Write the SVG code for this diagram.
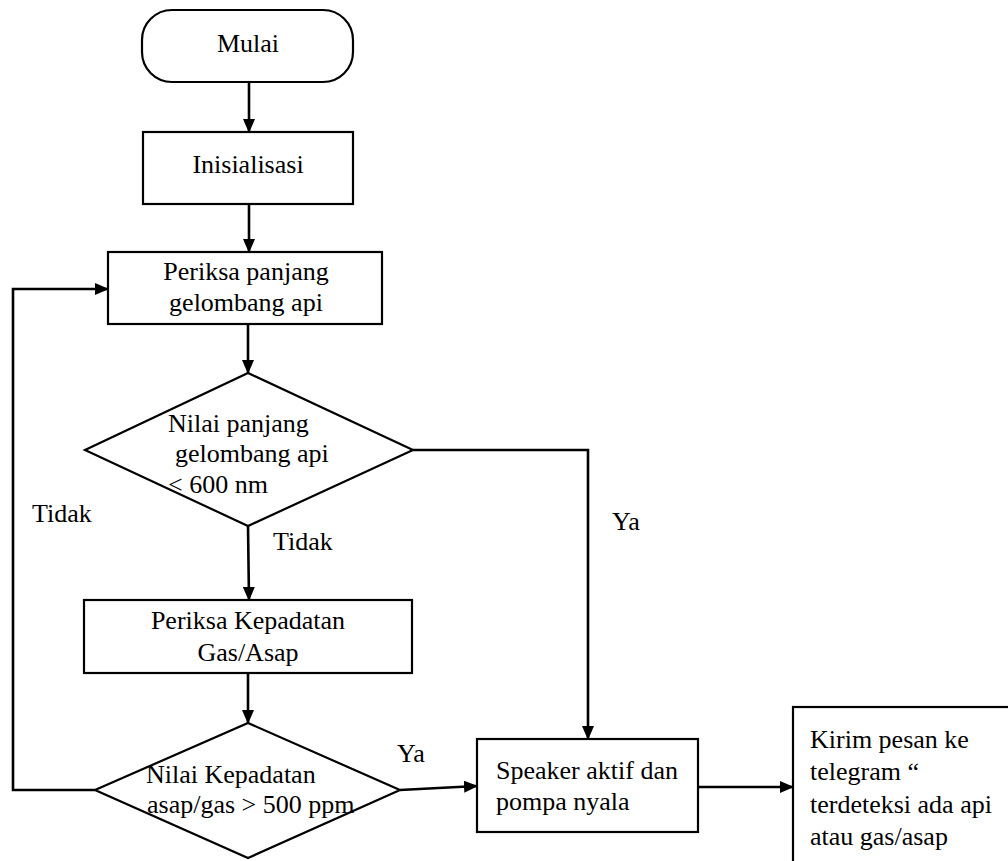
<svg xmlns="http://www.w3.org/2000/svg" width="1008" height="861" viewBox="0 0 1008 861">
<defs>
<style>
.n{fill:#fff;stroke:#000;stroke-width:2.2}
.c{fill:none;stroke:#000;stroke-width:2.6}
</style>
<marker id="ah" markerWidth="14" markerHeight="12" refX="13" refY="6" orient="auto" markerUnits="userSpaceOnUse">
<path d="M0,0 L14,6 L0,12 Z" fill="#000"/>
</marker>
</defs>
<rect width="1008" height="861" fill="#fff"/>
<g font-family="Liberation Serif, Times New Roman, Noto Serif, DejaVu Serif, serif" font-size="26" fill="#000">
<g id="connectors">
<line class="c" x1="249" y1="82" x2="249" y2="132" marker-end="url(#ah)"/>
<line class="c" x1="249" y1="204" x2="249" y2="252" marker-end="url(#ah)"/>
<line class="c" x1="248" y1="324" x2="248" y2="373" marker-end="url(#ah)"/>
<line class="c" x1="248" y1="526" x2="249" y2="600" marker-end="url(#ah)"/>
<line class="c" x1="248" y1="673" x2="248" y2="723" marker-end="url(#ah)"/>
<polyline class="c" points="413,450 588,450 588,739" marker-end="url(#ah)"/>
<polyline class="c" points="95,790 13,790 13,289 108,289" marker-end="url(#ah)"/>
<line class="c" x1="400" y1="790" x2="477" y2="786" marker-end="url(#ah)"/>
<line class="c" x1="698" y1="787" x2="793" y2="787" marker-end="url(#ah)"/>
<text x="32" y="522">Tidak</text>
<text x="273" y="550">Tidak</text>
<text x="612" y="530">Ya</text>
<text x="397" y="762">Ya</text>
</g>
<g id="mulai">
<rect class="n" x="142" y="10" width="211" height="72" rx="30" ry="30"/>
<text x="248" y="52" text-anchor="middle">Mulai</text>
</g>
<g id="inisialisasi">
<rect class="n" x="143" y="132" width="210" height="72"/>
<text x="248" y="173" text-anchor="middle">Inisialisasi</text>
</g>
<g id="periksa-panjang">
<rect class="n" x="108" y="252" width="274" height="72"/>
<text x="246" y="280" text-anchor="middle">Periksa panjang</text>
<text x="246" y="311" text-anchor="middle">gelombang api</text>
</g>
<g id="cek-panjang">
<polygon class="n" points="248,373 413,450 248,526 85,450"/>
<text x="168" y="432">Nilai panjang</text>
<text x="175" y="462">gelombang api</text>
<text x="168" y="493">&lt; 600 nm</text>
</g>
<g id="periksa-kepadatan">
<rect class="n" x="84" y="600" width="328" height="73"/>
<text x="248" y="629" text-anchor="middle">Periksa Kepadatan</text>
<text x="248" y="661" text-anchor="middle">Gas/Asap</text>
</g>
<g id="cek-kepadatan">
<polygon class="n" points="248,723 400,790 248,858 95,790"/>
<text x="146" y="783">Nilai Kepadatan</text>
<text x="147" y="813">asap/gas &gt; 500 ppm</text>
</g>
<g id="speaker">
<rect class="n" x="477" y="739" width="221" height="93"/>
<text x="496" y="779">Speaker aktif dan</text>
<text x="496" y="810">pompa nyala</text>
</g>
<g id="kirim">
<rect class="n" x="793" y="707" width="240" height="200"/>
<text x="810" y="748">Kirim pesan ke</text>
<text x="810" y="780">telegram “</text>
<text x="810" y="813">terdeteksi ada api</text>
<text x="810" y="845">atau gas/asap</text>
</g>
</g>
</svg>
